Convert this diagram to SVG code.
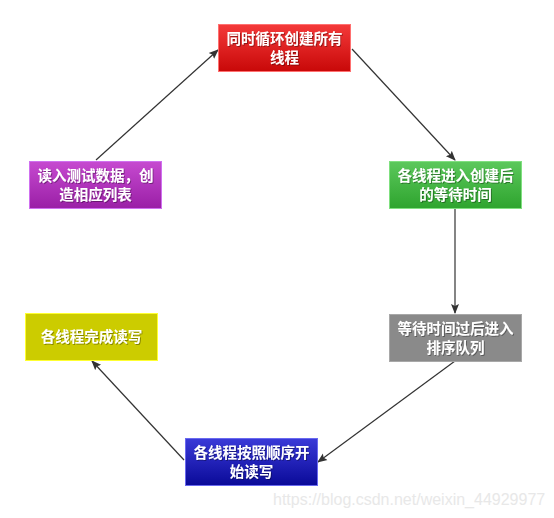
<svg xmlns="http://www.w3.org/2000/svg" width="554" height="518" viewBox="0 0 554 518">
<defs>
<linearGradient id="gRed" x1="0" y1="0" x2="0" y2="1"><stop offset="0" stop-color="#f43a3a"/><stop offset="1" stop-color="#c80808"/></linearGradient>
<linearGradient id="gPurple" x1="0" y1="0" x2="0" y2="1"><stop offset="0" stop-color="#c64ad0"/><stop offset="1" stop-color="#9a1fa6"/></linearGradient>
<linearGradient id="gGreen" x1="0" y1="0" x2="0" y2="1"><stop offset="0" stop-color="#5cc85c"/><stop offset="1" stop-color="#2ea42e"/></linearGradient>
<linearGradient id="gBlue" x1="0" y1="0" x2="0" y2="1"><stop offset="0" stop-color="#3a3ad8"/><stop offset="1" stop-color="#0a0a98"/></linearGradient>
<filter id="tsh" x="-10%" y="-30%" width="120%" height="160%">
<feDropShadow dx="1" dy="1" stdDeviation="0.6" flood-color="#000" flood-opacity="0.35"/>
</filter>
<marker id="arr" viewBox="0 0 10 10" refX="9" refY="5" markerWidth="10" markerHeight="10" markerUnits="userSpaceOnUse" orient="auto">
<path d="M0,1 L10,5 L0,9 L2,5 z" fill="#333"/>
</marker>
</defs>
<style>
.lbl{font-family:"Noto Sans CJK SC","Liberation Sans",sans-serif;font-size:14.5px;font-weight:bold;fill:#fff;text-anchor:middle;filter:url(#tsh)}
.edge{stroke:#333;stroke-width:1.2;fill:none;marker-end:url(#arr)}
</style>
<rect width="554" height="518" fill="#fff"/>
<g id="connectors">
<line class="edge" x1="96" y1="160" x2="218" y2="50"/>
<line class="edge" x1="352" y1="49" x2="455" y2="160"/>
<line class="edge" x1="455" y1="209" x2="455" y2="313"/>
<line class="edge" x1="455" y1="361" x2="318" y2="462"/>
<line class="edge" x1="184" y1="460" x2="92" y2="361"/>
</g>
<g id="n1">
<rect x="218.5" y="24.5" width="132" height="47" fill="url(#gRed)" stroke="#ff7070" stroke-width="1"/>
<text class="lbl" x="284.5" y="43.5">同时循环创建所有</text>
<text class="lbl" x="284.5" y="62.5">线程</text>
</g>
<g id="n2">
<rect x="389.5" y="161.5" width="132" height="47" fill="url(#gGreen)" stroke="#80e080" stroke-width="1"/>
<text class="lbl" x="455.5" y="180.5">各线程进入创建后</text>
<text class="lbl" x="455.5" y="199.5">的等待时间</text>
</g>
<g id="n3">
<rect x="389.5" y="314.5" width="132" height="47" fill="#8a8a8a" stroke="#a8a8a8" stroke-width="1"/>
<text class="lbl" x="455.5" y="333.5">等待时间过后进入</text>
<text class="lbl" x="455.5" y="352.5">排序队列</text>
</g>
<g id="n4">
<rect x="185.5" y="438.5" width="132" height="47" fill="url(#gBlue)" stroke="#6a6af0" stroke-width="1"/>
<text class="lbl" x="251.5" y="457.5">各线程按照顺序开</text>
<text class="lbl" x="251.5" y="476.5">始读写</text>
</g>
<g id="n5">
<rect x="25.5" y="313.5" width="132" height="47" fill="#cccc00" stroke="#ffff30" stroke-width="1"/>
<text class="lbl" x="91.5" y="342">各线程完成读写</text>
</g>
<g id="n6">
<rect x="29.5" y="161.5" width="132" height="47" fill="url(#gPurple)" stroke="#d070f0" stroke-width="1"/>
<text class="lbl" x="95.5" y="180.5">读入测试数据，创</text>
<text class="lbl" x="95.5" y="199.5">造相应列表</text>
</g>
<text x="273" y="505" font-family="Liberation Sans, Arial, sans-serif" font-size="16" fill="#e8e8e8">https://blog.csdn.net/weixin_44929977</text>
</svg>
